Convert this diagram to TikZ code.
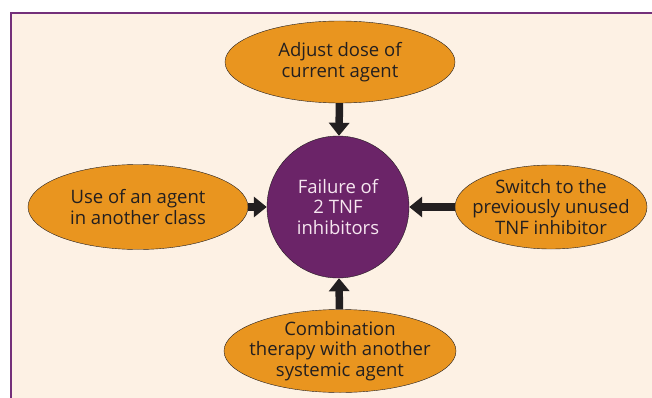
\documentclass[tikz,border=0pt]{standalone}
\usepackage{fontspec}
\setmainfont{Open Sans}
\usepackage{tikz}
\usetikzlibrary{arrows.meta,shapes.geometric}
\definecolor{cream}{HTML}{FDF1E4}
\definecolor{amber}{HTML}{E9951F}
\definecolor{plum}{HTML}{6B2468}
\definecolor{framec}{HTML}{74307A}
\definecolor{ink}{HTML}{231F20}
\definecolor{pale}{HTML}{F6E6F0}
\tikzset{
  option/.style={ellipse, draw=ink, fill=amber, inner sep=0pt},
  label text/.style={text=ink, align=center, inner sep=0pt,
    font=\fontsize{18.5}{20.5}\selectfont},
  push/.style={draw=ink, line width=7.5pt,
    -{Triangle[length=13pt,width=20pt]}}
}

\begin{document}
\begin{tikzpicture}[x=1pt,y=-1pt]
  \useasboundingbox (0,0) rectangle (652,398);
  \fill[white] (0,0) rectangle (652,398);
  \draw[framec, line width=2.5pt, fill=cream] (11,13) rectangle (670,420);
  % central node
  \node (F) [circle, draw=ink, fill=plum, minimum size=142pt] at (338, 207) {};
  \node (Ft) [label text, text=pale] at (F) {Failure of\\2 TNF\\inhibitors};
  % options round it
  \node (T) [option, minimum width=230pt, minimum height=82pt] at (340, 62) {};
  \node (Tt) [label text] at (T) {Adjust dose of\\current agent};
  \node (L) [option, minimum width=220pt, minimum height=85pt] at (138, 207) {};
  \node (Lt) [label text] at (L) {Use of an agent\\in another class};
  \node (R) [option, minimum width=192pt, minimum height=84pt] at (551, 207) {};
  \node (Rt) [label text] at (R) {Switch to the\\previously unused\\TNF inhibitor};
  \node (B) [option, minimum width=232pt, minimum height=83pt] at (340, 351) {};
  \node (Bt) [label text] at (B) {Combination\\therapy with another\\systemic agent};
  \draw [push] (T) -- (F);
  \draw [push] (L) -- (F);
  \draw [push] (R) -- (F);
  \draw [push] (B) -- (F);
\end{tikzpicture}
\end{document}
